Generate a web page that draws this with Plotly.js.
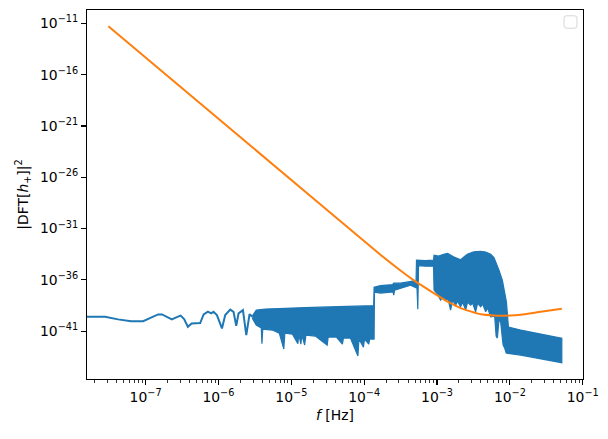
<!DOCTYPE html>
<html>
<head>
<meta charset="utf-8">
<script src="https://cdn.plot.ly/plotly-3.0.1.min.js"></script>
<style>
  html, body { margin: 0; padding: 0; background: #fff; }
  #chart { width: 608px; height: 439px; }
</style>
</head>
<body>
<div id="chart"></div>
<script>
// ---- Data (log10 values) ----
// Blue |DFT[h+]|^2, smooth low-frequency part
const lineLogF = [-7.85, -7.557, -7.378, -7.199, -7.034, -6.915, -6.828, -6.773, -6.704, -6.640, -6.571, -6.519, -6.471, -6.420, -6.368, -6.296, -6.251, -6.203, -6.145, -6.100, -6.068, -6.021, -5.952, -5.907, -5.838, -5.793, -5.756, -5.724, -5.664, -5.618, -5.573, -5.536];
const lineLogS = [-39.60, -39.60, -39.85, -40.02, -40.02, -39.60, -39.37, -39.37, -39.58, -39.85, -39.63, -39.48, -39.82, -40.57, -40.24, -40.18, -40.21, -39.37, -39.09, -39.27, -39.11, -39.43, -40.73, -39.43, -38.90, -39.11, -40.47, -39.27, -38.95, -41.38, -39.34, -39.60];

// Blue dense (rapidly oscillating) part: upper envelope, left to right
const upperLogF = [-5.536, -5.481, -5.357, -5.220, -5.014, -4.807, -4.601, -4.326, -4.120, -3.870, -3.864, -3.776, -3.611, -3.594, -3.502, -3.364, -3.288, -3.282, -3.158, -3.048, -3.041, -2.979, -2.910, -2.855, -2.773, -2.677, -2.635, -2.585, -2.498, -2.402, -2.333, -2.264, -2.219, -2.182, -2.150, -2.104, -2.072, -2.048, -2.035, -2.021, -1.852, -1.646, -1.440, -1.288];
const upperLogS = [-39.53, -38.95, -38.85, -38.80, -38.75, -38.70, -38.66, -38.61, -38.56, -38.51, -36.71, -36.56, -36.47, -36.32, -36.32, -36.13, -36.08, -34.08, -34.13, -34.08, -33.60, -33.69, -33.50, -33.43, -33.76, -34.04, -33.76, -33.50, -33.28, -33.21, -33.28, -33.50, -33.82, -34.40, -35.06, -36.03, -37.17, -38.14, -39.27, -40.60, -40.89, -41.19, -41.48, -41.70];

// Blue dense part: lower envelope, right to left
const lowerLogF = [-1.288, -1.577, -1.852, -2.031, -2.051, -2.072, -2.093, -2.104, -2.127, -2.150, -2.172, -2.189, -2.209, -2.264, -2.306, -2.333, -2.374, -2.402, -2.443, -2.471, -2.512, -2.539, -2.581, -2.608, -2.649, -2.677, -2.718, -2.745, -2.787, -2.814, -2.848, -2.883, -2.924, -2.952, -2.993, -3.041, -3.048, -3.158, -3.254, -3.264, -3.275, -3.364, -3.502, -3.584, -3.594, -3.605, -3.776, -3.859, -3.864, -3.925, -3.937, -3.996, -4.010, -4.072, -4.086, -4.189, -4.285, -4.299, -4.381, -4.494, -4.508, -4.670, -4.800, -4.817, -4.855, -4.869, -4.897, -4.910, -4.986, -5.089, -5.103, -5.165, -5.261, -5.392, -5.403, -5.412, -5.481, -5.536];
const lowerLogS = [-44.07, -43.67, -43.33, -43.16, -43.13, -42.64, -42.35, -41.67, -40.11, -39.92, -41.67, -41.48, -39.53, -39.60, -38.75, -39.11, -38.36, -38.63, -38.27, -39.11, -38.27, -38.46, -38.17, -38.95, -38.17, -38.63, -38.07, -38.46, -37.97, -38.95, -37.88, -37.97, -37.68, -37.97, -37.39, -37.00, -34.67, -34.67, -34.62, -38.85, -36.81, -36.52, -36.81, -37.00, -37.49, -37.17, -37.29, -37.20, -41.77, -41.77, -42.26, -41.77, -42.55, -41.77, -43.42, -41.67, -41.67, -42.26, -41.57, -41.57, -42.35, -41.48, -41.38, -42.35, -41.38, -42.26, -41.28, -42.21, -41.28, -41.19, -42.74, -41.19, -40.89, -40.80, -42.21, -40.70, -40.41, -39.73];

// Orange sensitivity curve
const sensLogF = [-7.511, -5.563, -3.777, -3.502, -3.323, -3.227, -2.952, -2.828, -2.677, -2.402, -2.223, -1.989, -1.852, -1.577, -1.288];
const sensLogS = [-11.29, -22.90, -33.55, -35.09, -36.03, -36.47, -37.70, -38.22, -38.75, -39.36, -39.47, -39.48, -39.40, -39.11, -38.82];

// Tick labels
const xTickExp = [-7, -6, -5, -4, -3, -2, -1];
const yTickExp = [-11, -16, -21, -26, -31, -36, -41];

// ---- Build ----
const pw = v => Math.pow(10, v);
const sup = e => '10<sup>\u2212' + Math.abs(e) + '</sup>';

const blueLine = {
  x: lineLogF.map(pw), y: lineLogS.map(pw),
  mode: 'lines', type: 'scatter',
  line: { color: '#1f77b4', width: 2 }, showlegend: false, hoverinfo: 'skip'
};
const blueBand = {
  x: upperLogF.concat(lowerLogF).map(pw),
  y: upperLogS.concat(lowerLogS).map(pw),
  mode: 'lines', type: 'scatter', fill: 'toself', fillcolor: '#1f77b4',
  line: { color: '#1f77b4', width: 1.2 }, showlegend: false, hoverinfo: 'skip'
};
const orange = {
  x: sensLogF.map(pw), y: sensLogS.map(pw),
  mode: 'lines', type: 'scatter',
  line: { color: '#ff7f0e', width: 2, shape: 'spline', smoothing: 0.5 },
  showlegend: false, hoverinfo: 'skip'
};

// minor tick positions on x (2..9 x decade)
const minorX = [];
for (let d = -8; d <= -1; d++) for (let m = 2; m <= 9; m++) minorX.push(m * Math.pow(10, d));

const font = { family: 'DejaVu Sans, sans-serif', size: 13.9, color: '#000' };

// empty legend frame (rounded) in the top-right corner
const lx0 = 0.9617, lx1 = 0.9879, lyT = 0.9843, lyB = 0.9507, rx = 0.005, ry = 0.0068;
const legendPath = `M ${lx0 + rx} ${lyT} L ${lx1 - rx} ${lyT} Q ${lx1} ${lyT} ${lx1} ${lyT - ry} L ${lx1} ${lyB + ry} Q ${lx1} ${lyB} ${lx1 - rx} ${lyB} L ${lx0 + rx} ${lyB} Q ${lx0} ${lyB} ${lx0} ${lyB + ry} L ${lx0} ${lyT - ry} Q ${lx0} ${lyT} ${lx0 + rx} ${lyT} Z`;

const layout = {
  width: 608, height: 439,
  margin: { l: 87, r: 25, t: 9.5, b: 60, pad: 0 },
  paper_bgcolor: '#fff', plot_bgcolor: '#fff',
  font: font,
  showlegend: false,
  xaxis: {
    type: 'log', range: [-7.804, -0.997], autorange: false,
    showgrid: false, zeroline: false,
    showline: true, linecolor: '#000', linewidth: 1.1, mirror: true,
    ticks: 'outside', ticklen: 4.9, tickwidth: 1.1, tickcolor: '#000',
    tickmode: 'array', tickvals: xTickExp.map(pw), ticktext: xTickExp.map(sup),
    tickfont: font, automargin: false,
    minor: { tickmode: 'array', tickvals: minorX, ticks: 'outside', ticklen: 2.8, tickwidth: 0.8, tickcolor: '#000', showgrid: false },
    title: { text: '<i>f</i> [Hz]', font: font, standoff: 6 }
  },
  yaxis: {
    type: 'log', range: [-45.66, -9.70], autorange: false,
    showgrid: false, zeroline: false,
    showline: true, linecolor: '#000', linewidth: 1.1, mirror: true,
    ticks: 'outside', ticklen: 4.9, tickwidth: 1.1, tickcolor: '#000',
    tickmode: 'array', tickvals: yTickExp.map(pw), ticktext: yTickExp.map(sup),
    tickfont: font, automargin: false,
    title: { text: '|DFT[<i>h</i><sub>+</sub>]|<sup>2</sup>', font: font, standoff: 8 }
  },
  shapes: [{
    type: 'path', xref: 'paper', yref: 'paper', path: legendPath,
    line: { color: 'rgba(204,204,204,0.8)', width: 1 }, fillcolor: 'rgba(255,255,255,0.8)', layer: 'above'
  }]
};

Plotly.newPlot('chart', [blueBand, blueLine, orange], layout, { staticPlot: true, displayModeBar: false });
</script>
</body>
</html>
